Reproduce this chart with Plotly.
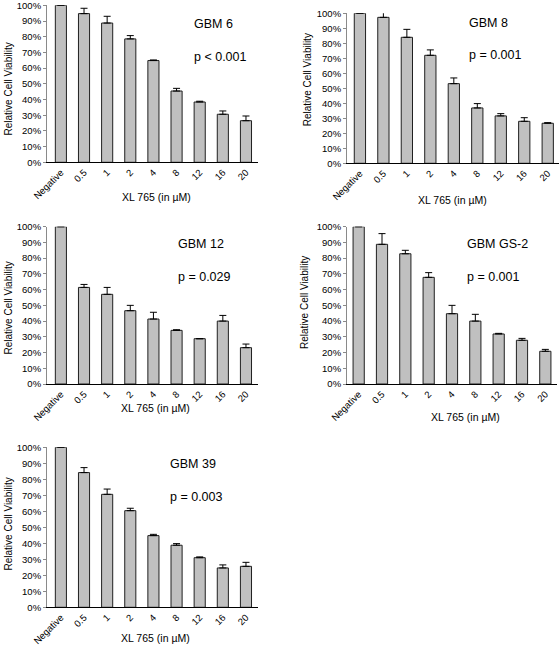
import plotly.graph_objects as go

categories = ["Negative", "0.5", "1", "2", "4", "8", "12", "16", "20"]

gbm6 = [1.00, 0.947, 0.887, 0.786, 0.648, 0.454, 0.384, 0.306, 0.265]
gbm6_err = [0.0, 0.034, 0.043, 0.021, 0.004, 0.017, 0.005, 0.021, 0.030]

gbm8 = [1.00, 0.973, 0.840, 0.720, 0.531, 0.369, 0.316, 0.280, 0.267]
gbm8_err = [0.0, 0.045, 0.053, 0.036, 0.038, 0.029, 0.015, 0.024, 0.004]

gbm12 = [1.00, 0.614, 0.570, 0.466, 0.413, 0.341, 0.288, 0.400, 0.231]
gbm12_err = [0.0, 0.019, 0.044, 0.034, 0.043, 0.004, 0.0, 0.036, 0.023]

gbmgs2 = [1.00, 0.888, 0.828, 0.678, 0.447, 0.400, 0.318, 0.278, 0.208]
gbmgs2_err = [0.0, 0.068, 0.022, 0.030, 0.053, 0.043, 0.004, 0.012, 0.012]

gbm39 = [1.00, 0.842, 0.706, 0.604, 0.448, 0.388, 0.310, 0.246, 0.256]
gbm39_err = [0.0, 0.031, 0.033, 0.015, 0.008, 0.010, 0.005, 0.019, 0.025]

names = ["GBM 6", "GBM 8", "GBM 12", "GBM GS-2", "GBM 39"]
pvalues = ["p < 0.001", "p = 0.001", "p = 0.029", "p = 0.001", "p = 0.003"]
x_title = "XL 765 (in µM)"
y_title = "Relative Cell Viability"

W, H = 560, 649
FONT = "Liberation Sans, Arial, sans-serif"

def px(x):
    return x / W

def py(y):
    return 1 - y / H

# panel layout in pixels: (x0, x1, ytop, ybottom, xrange)
panels = [
    (47, 258, 5.3, 162.3, [-0.6, 8.52]),
    (347, 559, 13.3, 163.3, [-0.55, 8.48]),
    (47, 258, 226.7, 384.0, [-0.6, 8.52]),
    (347, 557, 226.7, 384.0, [-0.5, 8.5]),
    (47, 258, 447.3, 607.3, [-0.6, 8.52]),
]
# annotation positions in pixels
label_pos = [(192, 24, 57), (466.7, 23, 55), (175.7, 244, 276.7), (465, 244, 276.7), (167.7, 464.3, 497.3)]
xtitle_pos = [(156.7, 197), (452.5, 200), (155.8, 407.7), (465.8, 416.7), (155.8, 637.7)]
ytitle_pos = [(7.5, 89), (307.3, 80), (7.5, 308), (304, 303), (7.5, 524)]

series = [gbm6, gbm8, gbm12, gbmgs2, gbm39]
errors = [gbm6_err, gbm8_err, gbm12_err, gbmgs2_err, gbm39_err]

fig = go.Figure()
layout = dict(
    template="none",
    width=W, height=H,
    margin=dict(l=0, r=0, t=0, b=0, pad=0, autoexpand=False),
    paper_bgcolor="white", plot_bgcolor="white",
    showlegend=False,
    bargap=0.52,
    font=dict(family=FONT, color="black"),
)
annotations = []

for i, (vals, err) in enumerate(zip(series, errors)):
    n = "" if i == 0 else str(i + 1)
    fig.add_trace(go.Bar(
        x=categories, y=vals,
        xaxis="x" + n, yaxis="y" + n,
        marker=dict(color="#C0C0C0", line=dict(color="#202020", width=1)),
        error_y=dict(type="data", symmetric=False, array=err,
                     arrayminus=[0] * len(err), color="#000000",
                     thickness=1, width=3.5),
        hoverinfo="skip",
    ))
    x0, x1, yt, yb, xr = panels[i]
    layout["xaxis" + n] = dict(
        domain=[px(x0), px(x1)], anchor="y" + n,
        range=xr, type="category", automargin=False,
        ticklabeloverflow="allow",
        showline=True, linecolor="#000000", linewidth=1,
        ticks="", tickangle=-45,
        tickfont=dict(size=9.5, family=FONT, color="black"),
        showgrid=False, zeroline=False, fixedrange=True,
    )
    layout["yaxis" + n] = dict(
        domain=[py(yb), py(yt)], anchor="x" + n,
        range=[0, 1], dtick=0.1, tickformat=".0%", automargin=False,
        ticklabeloverflow="allow",
        showline=True, linecolor="#8a8a8a", linewidth=1,
        ticks="outside", ticklen=3, tickcolor="#8a8a8a",
        tickfont=dict(size=9.5, family=FONT, color="black"),
        showgrid=False, zeroline=False, fixedrange=True,
    )
    lx, ly1, ly2 = label_pos[i]
    annotations.append(dict(x=px(lx), y=py(ly1), xref="paper", yref="paper",
                            text=names[i], showarrow=False, xanchor="left", yanchor="middle",
                            font=dict(size=12.5, family=FONT, color="black")))
    annotations.append(dict(x=px(lx), y=py(ly2), xref="paper", yref="paper",
                            text=pvalues[i], showarrow=False, xanchor="left", yanchor="middle",
                            font=dict(size=12.5, family=FONT, color="black")))
    tx, ty = xtitle_pos[i]
    annotations.append(dict(x=px(tx), y=py(ty), xref="paper", yref="paper",
                            text=x_title, showarrow=False, xanchor="center", yanchor="middle",
                            font=dict(size=10.5, family=FONT, color="black")))
    vx, vy = ytitle_pos[i]
    annotations.append(dict(x=px(vx), y=py(vy), xref="paper", yref="paper",
                            text=y_title, showarrow=False, textangle=-90,
                            xanchor="center", yanchor="middle",
                            font=dict(size=10, family=FONT, color="black")))

layout["annotations"] = annotations
fig.update_layout(**layout)

page_fix = (
    "document.documentElement.style.margin='0';"
    "document.documentElement.style.overflow='hidden';"
    "document.body.style.margin='0';"
    "document.body.style.padding='0';"
    "document.body.style.overflow='hidden';"
)
fig.write_html("out.html", post_script=page_fix,
               config={"displayModeBar": False, "staticPlot": True})
